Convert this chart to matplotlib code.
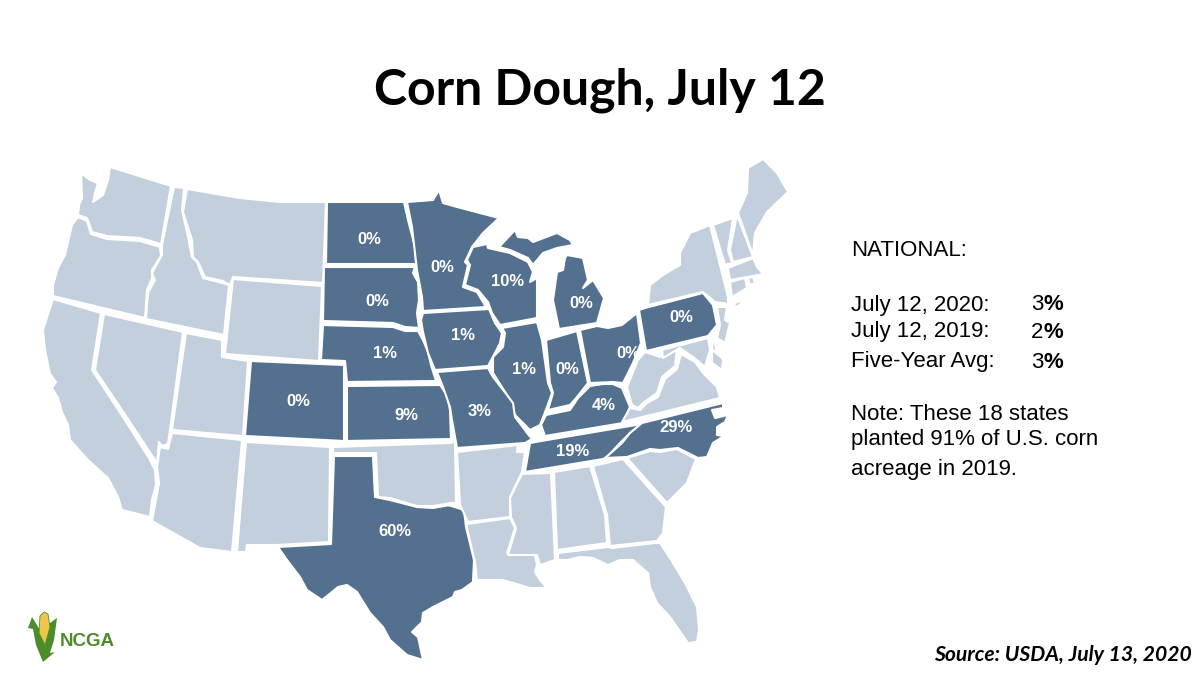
import matplotlib
matplotlib.use("Agg")
import matplotlib.pyplot as plt
from matplotlib.patches import Polygon

dark = "#54708f"
light = "#c3cfdd"
green = "#4c8c2b"

# percent of corn in dough stage, the 18 reporting states
corn_states = ["ND", "SD", "NE", "CO", "KS", "TX", "MN", "IA", "MO", "WI", "IL",
               "IN", "MI", "OH", "KY", "TN", "NC", "PA"]
dough_pct = [0, 0, 1, 0, 9, 60, 0, 1, 3, 10, 1, 0, 0, 0, 4, 19, 29, 0]

national_labels = ["July 12, 2020:", "July 12, 2019:", "Five-Year Avg:"]
national_pct = [3, 2, 3]

# state outlines, in image pixels
outlines = {
    "WA": [(110,167),(171,186),(161,244),(140,238),(107,236),(92,232),(87,218),(78,215),(79,205),(82,198),(81,173),(90,180),(98,183),(95,193),(93,202),(103,195),(108,180)],
    "OR": [(78,217),(87,221),(91,234),(107,239),(140,241),(160,247),(161,256),(152,270),(152,278),(147,290),(145,318),(53,296),(53,285),(58,268),(65,255),(72,225)],
    "ID": [(174,187),(184,188),(182,210),(188,237),(192,257),(197,262),(203,278),(222,283),(229,285),(224,335),(146,319),(148,293),(155,280),(152,273),(162,255),(162,245)],
    "MT": [(187,189),(240,198),(280,202),(326,202),(323,283),(233,277),(230,285),(223,281),(205,277),(198,262),(193,257),(192,240),(183,212)],
    "ND": [(327,202),(404,202),(408,220),(415,247),(416,264),(326,264)],
    "SD": [(324,267),(415,267),(413,273),(418,282),(419,300),(417,313),(419,328),(405,327),(393,323),(323,321)],
    "WY": [(233,279),(322,286),(319,361),(225,354)],
    "NE": [(323,325),(393,327),(405,331),(418,331),(423,340),(428,352),(431,365),(436,381),(347,382),(345,361),(321,360)],
    "CO": [(251,361),(344,365),(344,441),(245,436)],
    "KS": [(347,386),(440,385),(447,395),(450,410),(451,439),(347,441)],
    "UT": [(186,333),(222,340),(222,357),(248,361),(243,436),(172,430)],
    "NV": [(104,314),(183,332),(170,430),(168,444),(162,446),(159,442),(157,463),(122,410),(95,370)],
    "CA": [(53,299),(101,313),(92,370),(119,411),(149,458),(155,470),(156,485),(152,500),(150,517),(122,510),(118,497),(108,478),(88,460),(70,440),(68,425),(62,412),(58,398),(52,388),(56,382),(50,374),(45,350),(43,330)],
    "AZ": [(172,433),(242,440),(232,552),(200,548),(152,521),(155,505),(159,483),(157,467),(160,447),(168,449)],
    "NM": [(246,442),(330,447),(329,542),(277,545),(247,545),(246,552),(237,552)],
    "OK": [(333,447),(450,443),(455,442),(456,503),(450,503),(433,506),(417,506),(390,498),(378,497),(376,453),(333,453)],
    "TX": [(334,456),(373,456),(375,497),(390,500),(417,507),(433,508),(450,505),(445,504),(464,510),(466,527),(474,560),(473,582),(462,590),(455,592),(453,597),(433,607),(423,613),(422,622),(412,632),(418,637),(423,660),(407,655),(390,640),(383,627),(370,613),(357,592),(347,585),(338,587),(332,592),(322,600),(307,590),(300,577),(287,560),(278,547),(331,544)],
    "MN": [(407,202),(433,200),(439,190),(443,203),(457,207),(499,218),(483,233),(472,247),(465,262),(468,265),(463,287),(477,292),(486,307),(423,311),(422,297),(417,270),(415,253),(412,227)],
    "WI": [(473,247),(487,244),(488,248),(510,253),(528,262),(533,272),(530,282),(537,278),(537,318),(500,325),(492,313),(488,302),(478,290),(465,285),(470,265),(467,260)],
    "MI_up": [(499,247),(515,230),(518,237),(528,238),(533,242),(557,233),(570,240),(573,245),(557,248),(543,253),(533,265),(528,258),(510,250)],
    "MI": [(567,255),(583,258),(588,280),(583,288),(593,280),(604,298),(597,323),(559,329),(553,300),(557,272),(563,270),(565,258)],
    "IA": [(423,313),(489,309),(495,323),(502,333),(500,343),(495,353),(488,366),(435,370),(428,353),(423,332),(421,320)],
    "IL": [(502,328),(537,322),(542,340),(548,383),(552,393),(547,407),(542,420),(540,425),(530,430),(513,413),(507,395),(493,373),(493,357),(503,347),(505,333)],
    "IN": [(546,340),(577,331),(588,383),(577,397),(570,405),(548,410),(553,393),(550,383)],
    "OH": [(580,330),(597,326),(608,328),(622,325),(637,313),(641,343),(633,363),(623,383),(613,382),(590,383)],
    "KY": [(546,415),(570,410),(578,398),(590,386),(603,384),(613,384),(622,388),(630,407),(623,423),(545,436),(541,425)],
    "TN": [(530,443),(547,440),(642,424),(630,433),(620,443),(607,457),(603,459),(525,472)],
    "NC": [(723,403),(723,408),(712,410),(715,418),(728,415),(725,422),(717,427),(717,435),(724,436),(713,443),(707,457),(698,458),(678,448),(660,450),(650,449),(627,457),(605,458),(612,452),(622,443),(630,433),(642,423)],
    "VA": [(622,422),(630,408),(640,410),(647,403),(658,397),(665,379),(677,369),(681,354),(695,362),(703,373),(717,387),(720,398)],
    "WV": [(627,387),(638,360),(645,352),(660,357),(677,349),(675,366),(662,377),(657,393),(643,403),(638,408),(632,405)],
    "MD": [(662,350),(708,338),(710,350),(705,367),(693,357),(680,348),(663,358)],
    "MD_e": [(712,350),(722,358),(723,360),(722,370),(712,363)],
    "DE": [(713,335),(717,353),(722,357),(712,349)],
    "PA": [(639,310),(645,308),(703,293),(713,305),(715,315),(717,325),(708,336),(646,351)],
    "NJ": [(717,307),(727,307),(725,320),(730,323),(725,343),(717,338),(720,325)],
    "NY": [(710,225),(728,297),(728,304),(715,302),(703,292),(648,305),(650,285),(663,275),(680,265),(680,253),(690,233)],
    "NY_li": [(733,304),(747,298),(737,307)],
    "VT": [(713,225),(733,218),(728,250),(732,263),(725,265)],
    "NH": [(737,215),(753,257),(733,262),(730,250)],
    "ME": [(738,213),(747,193),(748,168),(763,159),(777,173),(788,192),(767,212),(755,233),(753,255)],
    "MA": [(728,268),(753,258),(757,267),(763,274),(753,276),(730,280)],
    "CT": [(730,282),(745,278),(747,288),(732,297)],
    "RI": [(748,278),(753,277),(755,283),(750,285)],
    "AR": [(457,452),(518,445),(517,452),(525,452),(522,472),(510,497),(510,517),(468,522),(460,505)],
    "MO": [(437,372),(488,368),(493,377),(507,395),(513,403),(515,417),(525,430),(527,433),(532,439),(525,443),(457,448),(452,420),(450,407),(443,387)],
    "LA": [(467,524),(510,518),(515,528),(507,553),(535,555),(537,565),(535,572),(540,580),(547,588),(530,588),(503,580),(477,580),(475,562),(467,528)],
    "MS": [(522,474),(551,473),(555,560),(540,565),(537,555),(508,555),(516,528),(511,517),(510,498)],
    "AL": [(554,472),(590,466),(605,515),(607,543),(557,550)],
    "GA": [(593,466),(623,459),(666,507),(663,533),(657,541),(610,546),(607,515)],
    "SC": [(627,458),(650,451),(660,452),(677,449),(696,459),(687,483),(667,503)],
    "FL": [(558,553),(608,547),(612,548),(655,543),(660,543),(670,558),(685,583),(697,607),(699,630),(697,642),(688,643),(670,617),(657,603),(650,587),(648,573),(633,560),(620,560),(608,565),(593,558),(580,557),(567,560),(558,560)],
}

# where each label sits on its state
label_pos = {
    "ND": (369,240), "SD": (377,301), "NE": (385,354), "CO": (298,401), "KS": (406,416),
    "TX": (395,531), "MN": (442,267), "IA": (463,336), "MO": (480,412), "WI": (508,282),
    "IL": (524,369), "IN": (567,370), "MI": (581,304), "OH": (628,354), "KY": (604,406),
    "TN": (573,451), "NC": (676,428), "PA": (681,318),
}

plt.rcParams["font.family"] = ["Liberation Sans", "DejaVu Sans"]

fig = plt.figure(figsize=(12, 6.75), dpi=100)
ax = fig.add_axes([0, 0, 1, 1])
ax.set_xlim(0, 1200)
ax.set_ylim(675, 0)
ax.axis("off")

for name, pts in outlines.items():
    base = name.split("_")[0]
    clr = dark if base in corn_states else light
    ax.add_patch(Polygon(pts, closed=True, facecolor=clr, edgecolor="white", lw=1.5, joinstyle="round"))

for st, pct in zip(corn_states, dough_pct):
    x, y = label_pos[st]
    ax.text(x, y, str(pct) + "%", color="white", fontsize=12, fontweight="bold", ha="center", va="center")

ax.text(600, 90, "Corn Dough, July 12", fontsize=36, fontweight="bold", family="Lato", ha="center", va="center")

ax.text(851, 250, "NATIONAL:", fontsize=16, va="center")
rows_y = [305, 332, 362]
for lab, pct, y in zip(national_labels, national_pct, rows_y):
    ax.text(851, y, lab, fontsize=16, va="center")
    ax.text(1031, y, str(pct), fontsize=16, va="center")
    ax.text(1043, y, "%", fontsize=16, fontweight="bold", va="center")

note = ["Note: These 18 states", "planted 91% of U.S. corn", "acreage in 2019."]
for line, y in zip(note, [414, 440, 469]):
    ax.text(851, y, line, fontsize=16, va="center")

ax.text(1192, 655, "Source: USDA, July 13, 2020", fontsize=15.2, fontweight="bold", style="italic",
        family="Lato", ha="right", va="center")

# logo
ax.add_patch(Polygon([(32,617),(28,628),(33,629),(36,645),(43,662),(55,652),(50,653),(54,640),(57,618),(50,623),(45,645),(40,630)], closed=True, facecolor=green, edgecolor="none"))
ax.add_patch(Polygon([(39,633),(40,616),(44,612),(48,614),(50,627),(45,645)], closed=True, facecolor="#eec64a", edgecolor=green, lw=0.6))
ax.text(60, 641, "NCGA", color=green, fontsize=13.5, fontweight="bold", va="center")

fig.savefig("out.png", dpi=100)
